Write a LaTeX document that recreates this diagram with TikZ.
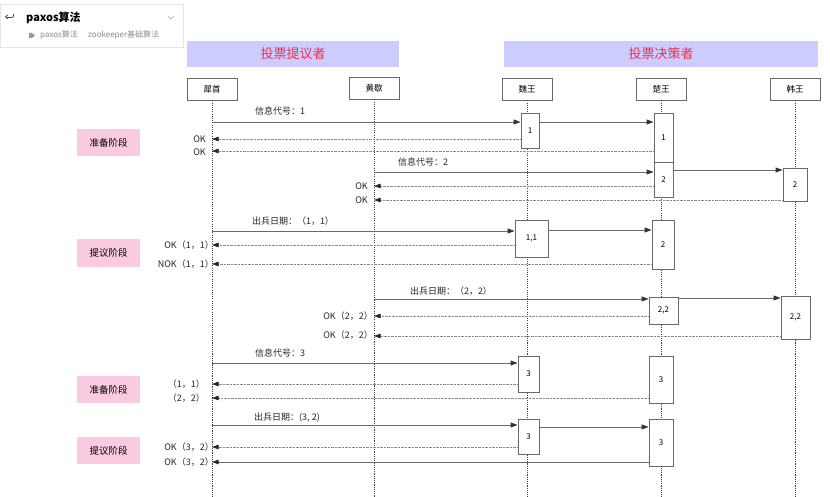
\documentclass[tikz,border=0pt]{standalone}
\usepackage{fontspec}
\setmainfont{Noto Sans CJK SC}
\usetikzlibrary{arrows.meta}
\definecolor{lilla}{RGB}{204,204,255}
\definecolor{rosso}{RGB}{236,48,78}
\definecolor{rosa}{RGB}{250,202,224}
\definecolor{grigio}{RGB}{105,105,105}

\begin{document}
\begin{tikzpicture}[x=1pt, y=-1pt,
			fascia/.style={fill=lilla, draw=none, minimum height=26pt, inner sep=0pt,
				text=rosso, font=\fontsize{13}{14}\selectfont},
			attore/.style={draw=grigio, fill=white, line width=0.8pt, minimum width=50pt,
				minimum height=22pt, inner sep=0pt, font=\fontsize{8.5}{9}\selectfont},
			vita/.style={line width=1pt, black!75, dash pattern=on 1.1pt off 1.1pt},
			attiva/.style={draw=grigio, fill=white, line width=0.9pt, inner sep=0pt,
				font=\fontsize{8}{9}\selectfont},
			fase/.style={fill=rosa, minimum width=63pt, minimum height=27pt, inner sep=0pt,
				font=\fontsize{9.5}{10}\selectfont},
			chiama/.style={line width=0.9pt, grigio,
				-{Triangle[length=7pt, width=5pt, color=black!80]}},
			risposta/.style={line width=0.5pt, black!45, dash pattern=on 0.7pt off 0.7pt,
				-{Triangle[length=6.5pt, width=4.5pt, color=black!85]}},
			etich/.style={font=\fontsize{9}{10}\selectfont, inner sep=1pt, text=black!85},
			]
			
			\useasboundingbox (0,0) rectangle (830,497);
			
			%% blocco di attivazione: nome, x1, y1, x2, y2, testo
			\newcommand{\blocco}[6]{%
				\node[attiva, minimum width={#4-#2}, minimum height={#5-#3}]
				(#1) at ({(#2+#4)/2},{(#3+#5)/2}) {#6};}
			
			%% =========================================================
			%% intestazione della pagina
			%% =========================================================
			\draw[black!10, fill=white] (0,4) rectangle (183,47);
			\draw[black!70, line width=0.8pt, -{Straight Barb[length=2pt]}] (13,17) -- (5,17);
			\draw[black!70, line width=0.8pt] (13,17) -- (13,14);
			\node[anchor=west, inner sep=0pt, font=\bfseries\fontsize{11}{12}\selectfont]
			(titolo) at (26,18) {paxos算法};
			\draw[black!35, line width=0.6pt] (168,16) -- (171,19) -- (174,16);
			\fill[black!40] (29,33) -- (32,33) -- (35,35.5) -- (32,38) -- (29,38) -- cycle;
			\node[anchor=west, inner sep=0pt, text=black!45, font=\fontsize{8}{9}\selectfont]
			(tag1) at (40,35) {paxos算法};
			\node[anchor=west, inner sep=0pt, text=black!45, font=\fontsize{8}{9}\selectfont]
			(tag2) at (88,35) {zookeeper基础算法};
			
			%% =========================================================
			%% fasce e partecipanti
			%% =========================================================
			\node[fascia, minimum width=212pt] (proponenti) at (293,54) {投票提议者};
			\node[fascia, minimum width=314pt] (decisori) at (661,54) {投票决策者};
			
			\node[attore] (xishou)   at (212,89) {犀首};
			\node[attore] (huangxie) at (374,88) {黄歇};
			\node[attore] (wei)      at (527,89) {魏王};
			\node[attore] (chu)      at (661,89) {楚王};
			\node[attore] (han)      at (795,89) {韩王};
			
			%% linee di vita
			\foreach \n in {xishou,huangxie,wei,chu,han}{
				\coordinate (\n-f) at (\n |- 0,497);
				\draw[vita] (\n.south) -- (\n-f);}
			
			%% fasi
			\node[fase] (fase1) at (108.5,142.5) {准备阶段};
			\node[fase] (fase2) at (108.5,253)   {提议阶段};
			\node[fase] (fase3) at (108.5,389.5) {准备阶段};
			\node[fase] (fase4) at (108.5,450.5) {提议阶段};
			
			%% =========================================================
			%% blocchi di attivazione
			%% =========================================================
			\blocco{w1}{521}{113}{539}{148}{1}
			\blocco{c1}{654}{113}{673}{162}{1}
			\blocco{c2}{654}{162}{673}{197}{2}
			\blocco{h2}{783}{168}{807}{201}{2}
			\blocco{w11}{515}{220}{548}{257}{1,1}
			\blocco{c2b}{652}{220}{674}{269}{2}
			\blocco{c22}{649}{297}{678}{324}{2,2}
			\blocco{h22}{781}{296}{810}{339}{2,2}
			\blocco{w3}{518}{356}{539}{392}{3}
			\blocco{c3}{649}{356}{673}{403}{3}
			\blocco{w3b}{518}{419}{539}{454}{3}
			\blocco{c3b}{649}{419}{673}{466}{3}
			
			%% =========================================================
			%% round 1: preparazione
			%% =========================================================
			\draw[chiama] (xishou |- 0,122) -- (w1.west |- 0,122);
			\draw[chiama] (w1.east |- 0,122) -- (c1.west |- 0,122);
			\node[etich] (m1) at (280,111) {信息代号：1};
			\draw[risposta] (w1.west |- 0,139) -- (xishou |- 0,139);
			\draw[risposta] (c1.west |- 0,151) -- (xishou |- 0,151);
			\node[etich, anchor=east] (r1) at (207,139) {OK};
			\node[etich, anchor=east] (r2) at (207,152) {OK};
			
			\draw[chiama] (huangxie |- 0,172) -- (c2.west |- 0,172);
			\draw[chiama] (c2.east |- 0,170) -- (h2.west |- 0,170);
			\node[etich] (m2) at (423,162) {信息代号：2};
			\draw[risposta] (c2.west |- 0,186) -- (huangxie |- 0,186);
			\draw[risposta] (h2.west |- 0,200) -- (huangxie |- 0,200);
			\node[etich, anchor=east] (r3) at (369,186) {OK};
			\node[etich, anchor=east] (r4) at (369,200) {OK};
			
			%% =========================================================
			%% round 1: proposta
			%% =========================================================
			\draw[chiama] (xishou |- 0,231) -- (w11.west |- 0,231);
			\draw[chiama] (w11.east |- 0,230) -- (c2b.west |- 0,230);
			\node[etich] (m3) at (293,221) {出兵日期：（1，1）};
			\draw[risposta] (w11.west |- 0,245) -- (xishou |- 0,245);
			\draw[risposta] (c2b.west |- 0,264) -- (xishou |- 0,264);
			\node[etich, anchor=east] (r5) at (215,245) {OK（1，1）};
			\node[etich, anchor=east] (r6) at (215,264) {NOK（1，1）};
			
			\draw[chiama] (huangxie |- 0,299) -- (c22.west |- 0,299);
			\draw[chiama] (c22.east |- 0,298) -- (h22.west |- 0,298);
			\node[etich] (m4) at (451,291) {出兵日期：（2，2）};
			\draw[risposta] (c22.west |- 0,316) -- (huangxie |- 0,316);
			\draw[risposta] (h22.west |- 0,336) -- (huangxie |- 0,336);
			\node[etich, anchor=east] (r7) at (374,316) {OK（2，2）};
			\node[etich, anchor=east] (r8) at (374,335) {OK（2，2）};
			
			%% =========================================================
			%% round 2
			%% =========================================================
			\draw[chiama] (xishou |- 0,363) -- (w3.west |- 0,363);
			\node[etich] (m5) at (280,353) {信息代号：3};
			\draw[risposta] (w3.west |- 0,384) -- (xishou |- 0,384);
			\draw[risposta] (c3.west |- 0,398) -- (xishou |- 0,398);
			\node[etich, anchor=east] (r9)  at (206,384) {（1，1）};
			\node[etich, anchor=east] (r10) at (206,398) {（2，2）};
			
			\draw[chiama] (xishou |- 0,425) -- (w3b.west |- 0,425);
			\draw[chiama] (w3b.east |- 0,427) -- (c3b.west |- 0,427);
			\node[etich] (m6) at (287,418) {出兵日期：(3, 2)};
			\draw[risposta] (w3b.west |- 0,447) -- (xishou |- 0,447);
			\draw[risposta, solid, line width=0.9pt, grigio] (c3b.west |- 0,462) -- (xishou |- 0,462);
			\node[etich, anchor=east] (r11) at (215,447) {OK（3，2）};
			\node[etich, anchor=east] (r12) at (215,462) {OK（3，2）};
			
	\end{tikzpicture}
\end{document}
